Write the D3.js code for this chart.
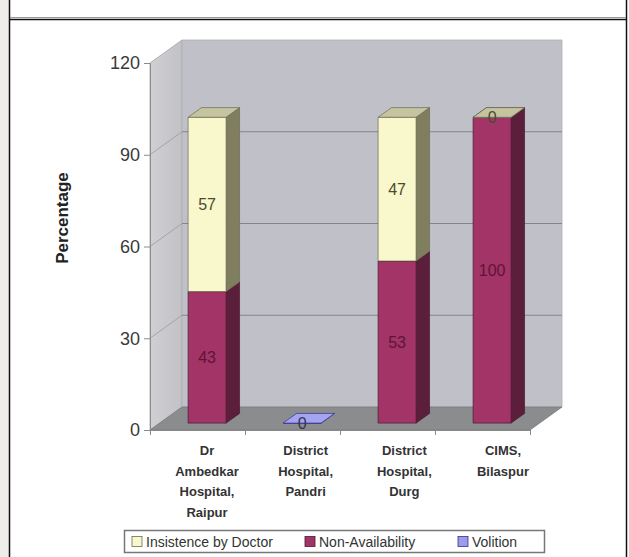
<!DOCTYPE html>
<html>
<head>
<meta charset="utf-8">
<script src="https://cdn.jsdelivr.net/npm/d3@7"></script>
<style>
  html, body { margin: 0; padding: 0; background: #fff; }
  svg { display: block; font-family: Arial, "Liberation Sans", sans-serif; }
</style>
</head>
<body>
<svg id="chart" width="629" height="557"></svg>
<script>
// Hospitals on the category axis, each name split into lines
const categories = ["Raipur", "Pandri", "Durg", "Bilaspur"];
const categoryLines = [
  ["Dr", "Ambedkar", "Hospital,", "Raipur"],
  ["District", "Hospital,", "Pandri"],
  ["District", "Hospital,", "Durg"],
  ["CIMS,", "Bilaspur"]
];
// Percentage of each reason per hospital (null = no segment)
const nonAvailability = [43, null, 53, 100];
const insistence      = [57, null, 47, 0];
const volition        = [null, 0, null, null];
const yTicks = [0, 30, 60, 90, 120];
const legendLabels = ["Insistence by Doctor", "Non-Availability", "Volition"];

(function () {
const svg = d3.select("#chart");

// ---- page frame ----
svg.append("rect").attr("x", 0).attr("y", 0).attr("width", 9).attr("height", 557).attr("fill", "#efede9");
svg.append("line").attr("x1", 9.5).attr("x2", 9.5).attr("y1", 0).attr("y2", 557).attr("stroke", "#111").attr("stroke-width", 1.5);
svg.append("line").attr("x1", 626.5).attr("x2", 626.5).attr("y1", 0).attr("y2", 557).attr("stroke", "#111").attr("stroke-width", 1.5);
svg.append("line").attr("x1", 10).attr("x2", 626).attr("y1", 17.5).attr("y2", 17.5).attr("stroke", "#999").attr("stroke-width", 1);
svg.append("line").attr("x1", 10).attr("x2", 626).attr("y1", 19.5).attr("y2", 19.5).attr("stroke", "#111").attr("stroke-width", 1.5);

// ---- 3D geometry ----
const plotLeft = 150, plotRight = 530, plotBottom = 430, plotTop = 63;
const depthX = 32, depthY = -23;           // full depth of the box
const f0 = 0.30, f1 = 0.72;                 // bar front / back depth fractions

const y = d3.scaleLinear().domain([0, 120]).range([plotBottom, plotTop]);
const x = d3.scaleBand().domain(categories).range([plotLeft, plotRight]).paddingInner(0.6).paddingOuter(0.3);

const P = (px, py, f) => [px + depthX * f, py + depthY * f];
const poly = pts => "M" + pts.map(p => p.join(",")).join("L") + "Z";

const defs = svg.append("defs");
const sideGrad = defs.append("linearGradient").attr("id", "sideGrad").attr("x1", 0).attr("x2", 1).attr("y1", 0).attr("y2", 0);
sideGrad.append("stop").attr("offset", 0).attr("stop-color", "#d0d0d3");
sideGrad.append("stop").attr("offset", 1).attr("stop-color", "#c2c2c6");

const walls = svg.append("g");
// side wall
walls.append("path")
  .attr("d", poly([P(plotLeft, plotBottom, 0), P(plotLeft, plotTop, 0), P(plotLeft, plotTop, 1), P(plotLeft, plotBottom, 1)]))
  .attr("fill", "url(#sideGrad)").attr("stroke", "#a6a6aa").attr("stroke-width", 0.8);
// back wall
walls.append("path")
  .attr("d", poly([P(plotLeft, plotTop, 1), P(plotRight, plotTop, 1), P(plotRight, plotBottom, 1), P(plotLeft, plotBottom, 1)]))
  .attr("fill", "#c0c1c8").attr("stroke", "#b0b0b6").attr("stroke-width", 0.8);
// floor
walls.append("path")
  .attr("d", poly([P(plotLeft, plotBottom, 0), P(plotRight, plotBottom, 0), P(plotRight, plotBottom, 1), P(plotLeft, plotBottom, 1)]))
  .attr("fill", "#8b8c8e").attr("stroke", "#7a7a7c").attr("stroke-width", 0.8);

// gridlines on back wall and side wall
const grid = yTicks.filter(t => t > 0 && t < 120);
walls.selectAll(".gridBack").data(grid).join("line")
  .attr("x1", d => P(plotLeft, y(d), 1)[0]).attr("y1", d => P(plotLeft, y(d), 1)[1])
  .attr("x2", d => P(plotRight, y(d), 1)[0]).attr("y2", d => P(plotRight, y(d), 1)[1])
  .attr("stroke", "#84848c").attr("stroke-width", 1);
walls.selectAll(".gridSide").data(grid).join("line")
  .attr("x1", d => P(plotLeft, y(d), 0)[0]).attr("y1", d => P(plotLeft, y(d), 0)[1])
  .attr("x2", d => P(plotLeft, y(d), 1)[0]).attr("y2", d => P(plotLeft, y(d), 1)[1])
  .attr("stroke", "#9a9a9e").attr("stroke-width", 0.8);

// ---- axes ----
const yAxis = svg.append("g").attr("transform", `translate(${plotLeft},0)`)
  .call(d3.axisLeft(y).tickValues(yTicks).tickSize(6).tickPadding(4));
yAxis.select(".domain").attr("stroke", "#8a8a8a");
yAxis.selectAll(".tick line").attr("stroke", "#8a8a8a");
yAxis.selectAll(".tick text").attr("font-size", 18).attr("fill", "#3a3a3a").attr("font-family", "Arial, 'Liberation Sans', sans-serif");

const xAxis = svg.append("g").attr("transform", `translate(0,${plotBottom})`)
  .call(d3.axisBottom(d3.scaleLinear().domain([0, 4]).range([plotLeft, plotRight])).ticks(4).tickSize(5).tickFormat(""));
xAxis.select(".domain").attr("stroke", "#8a8a8a");
xAxis.selectAll(".tick line").attr("stroke", "#8a8a8a");

// ---- bars ----
const series = [
  { key: "nonAvail", values: nonAvailability, front: "#a23467", side: "#5b1f3b", topc: "#7c2b52", edge: "#4a1830", text: "#5e1535" },
  { key: "insist", values: insistence, front: "#f9f7cc", side: "#7f7f5f", topc: "#c5c4a1", edge: "#6b6b55", text: "#4a4a30" },
  { key: "vol", values: volition, front: "#9c9cea", side: "#5c5ca8", topc: "#a4a4f0", edge: "#33338c", text: "#333355" }
];

const segments = [];
categories.forEach((c, i) => {
  let base = 0;
  series.forEach(s => {
    const v = s.values[i];
    if (v == null) return;
    segments.push({ cat: c, v, y0: base, y1: base + v, s });
    base += v;
  });
});

const bars = svg.append("g");
segments.forEach(d => {
  const x0 = x(d.cat), x1 = x(d.cat) + x.bandwidth();
  const yb = y(d.y0), yt = y(d.y1);
  const g = bars.append("g");
  // right side face
  g.append("path")
    .attr("d", poly([P(x1, yb, f0), P(x1, yt, f0), P(x1, yt, f1), P(x1, yb, f1)]))
    .attr("fill", d.s.side).attr("stroke", d.s.edge).attr("stroke-width", 0.7);
  // front face
  g.append("path")
    .attr("d", poly([P(x0, yb, f0), P(x1, yb, f0), P(x1, yt, f0), P(x0, yt, f0)]))
    .attr("fill", d.s.front).attr("stroke", d.s.edge).attr("stroke-width", 0.7);
  // top face
  g.append("path")
    .attr("d", poly([P(x0, yt, f0), P(x1, yt, f0), P(x1, yt, f1), P(x0, yt, f1)]))
    .attr("fill", d.s.topc).attr("stroke", d.s.edge).attr("stroke-width", 0.7);
});

// value labels centred on each segment's front face
bars.selectAll(".val").data(segments).join("text")
  .attr("x", d => P(x(d.cat) + x.bandwidth() / 2, 0, f0)[0])
  .attr("y", d => P(0, (y(d.y0) + y(d.y1)) / 2, f0)[1])
  .attr("dy", "0.36em")
  .attr("text-anchor", "middle")
  .attr("font-size", 16)
  .attr("fill", d => d.s.text)
  .text(d => d.v);

// ---- category labels ----
const labelX = d3.scalePoint().domain(categories).range([207, 503]);
const cl = svg.append("g").attr("font-weight", "bold").attr("font-size", 13).attr("fill", "#333");
categories.forEach((c, i) => {
  const t = cl.append("text").attr("text-anchor", "middle");
  categoryLines[i].forEach((ln, j) => {
    t.append("tspan").attr("x", labelX(c)).attr("y", 455 + j * 20.5).text(ln);
  });
});

// ---- y axis title ----
svg.append("text")
  .attr("transform", "translate(68,218) rotate(-90)")
  .attr("text-anchor", "middle")
  .attr("font-weight", "bold").attr("font-size", 17).attr("fill", "#222")
  .text("Percentage");

// ---- legend ----
const legendColors = [series[1].front, series[0].front, series[2].front];
const legendEdges = [series[1].edge, series[0].edge, series[2].edge];
const lg = svg.append("g");
lg.append("rect").attr("x", 124.5).attr("y", 530.5).attr("width", 420).attr("height", 22)
  .attr("fill", "#fff").attr("stroke", "#777").attr("stroke-width", 1.5);
const itemX = [132, 305, 458];
legendLabels.forEach((lab, i) => {
  lg.append("rect").attr("x", itemX[i]).attr("y", 536.5).attr("width", 10).attr("height", 10)
    .attr("fill", legendColors[i]).attr("stroke", legendEdges[i]).attr("stroke-width", 0.8);
  lg.append("text").attr("x", itemX[i] + 14).attr("y", 547)
    .attr("font-size", 14).attr("fill", "#333").text(lab);
});
})();
</script>
</body>
</html>
